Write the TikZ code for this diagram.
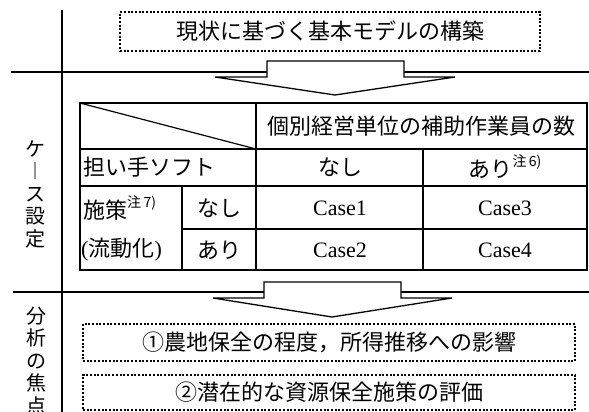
\documentclass[tikz,border=0pt]{standalone}
\usepackage{fontspec}
\setmainfont{Liberation Serif}
\newfontfamily\jp{Noto Sans CJK JP}
\newcommand\notemark[1]{\raisebox{0.5em}{\fontsize{14}{14}\selectfont{\jp 注}\,#1}}
\begin{document}
\begin{tikzpicture}[x=1pt,y=-1pt,
  mainline/.style={line width=2.6pt},
  dotbox/.style={draw, line width=2.3pt, dash pattern=on 2pt off 1.7pt, inner sep=0pt},
  bigarrow/.style={draw, fill=white, line width=1.3pt, line join=miter},
  gridline/.style={line width=2pt},
  jtext/.style={font=\jp\fontsize{22}{22}\selectfont, inner sep=0pt},
  rtext/.style={font=\rmfamily\fontsize{22}{22}\selectfont, inner sep=0pt},
  vlabel/.style={font=\jp\fontsize{20}{22.5}\selectfont, align=center, inner sep=0pt}
]
\useasboundingbox (0,0) rectangle (589,412);
\fill[white] (0,0) rectangle (589,412);

% frame lines
\draw[mainline] (62,10) -- (62,414);
\draw[mainline] (11,72) -- (589,72);
\draw[mainline] (13,292) -- (589,292);

% block arrows
\draw[bigarrow] (267,61) -- (404,61) -- (404,77) -- (455,77) -- (335,95) -- (215,77) -- (267,77) -- cycle;
\draw[bigarrow] (264,282) -- (401,282) -- (401,298) -- (452,298) -- (332,317) -- (213,298) -- (264,298) -- cycle;

% top box
\node[dotbox, jtext, minimum width=420pt, minimum height=39pt] (model) at (330,31.5) {現状に基づく基本モデルの構築};

% side labels
\node[vlabel] (caselbl) at (35,194) {ケ\\︱\\ス\\設\\定};
\node[vlabel] (focuslbl) at (36,361) {分\\析\\の\\焦\\点};

% table
\draw[gridline] (80,103) rectangle (587,270);
\draw[gridline] (80,149) -- (587,149);
\draw[gridline] (80,186) -- (587,186);
\draw[gridline] (182,229) -- (587,229);
\draw[gridline] (256,103) -- (256,270);
\draw[gridline] (423,149) -- (423,270);
\draw[gridline] (182,186) -- (182,270);
\draw[line width=1.2pt] (80,103) -- (256,149);

\node[jtext] (hdr) at (421,126) {個別経営単位の補助作業員の数};
\node[jtext, anchor=west] (soft) at (83,167) {担い手ソフト};
\node[jtext] (nashiH) at (340,167) {なし};
\node[jtext] (ariH) at (505,167) {あり\notemark{6)}};
\node[jtext, anchor=west] (sesaku) at (83,208) {施策\notemark{7)}};
\node[jtext, anchor=west] (ryudo) at (81,250) {{\rmfamily(}流動化{\rmfamily)}};
\node[jtext] (nashiR) at (219,208) {なし};
\node[jtext] (ariR) at (219,250) {あり};
\node[rtext] (case1) at (340,208) {Case1};
\node[rtext] (case3) at (505,208) {Case3};
\node[rtext] (case2) at (340,250) {Case2};
\node[rtext] (case4) at (505,250) {Case4};

% bottom boxes
\node[dotbox, jtext, minimum width=492pt, minimum height=37pt] (focus1) at (329,342.5) {①農地保全の程度，所得推移への影響};
\node[dotbox, jtext, minimum width=492pt, minimum height=35pt] (focus2) at (329,392.5) {②潜在的な資源保全施策の評価};
\end{tikzpicture}
\end{document}
